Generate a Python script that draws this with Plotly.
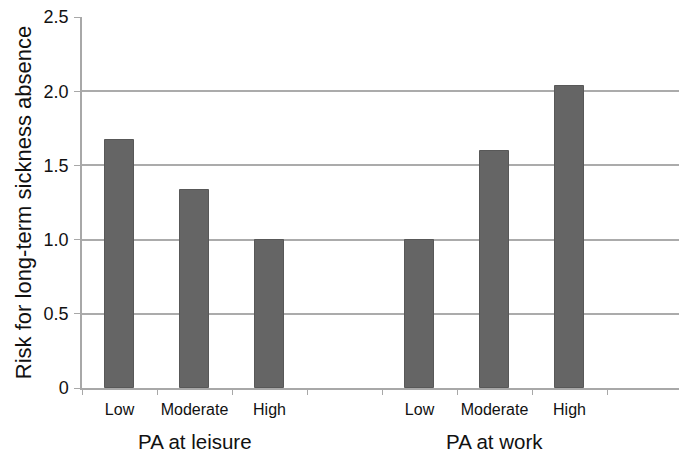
import plotly.graph_objects as go

positions = [0, 1, 2, 4, 5, 6]
levels = ["Low", "Moderate", "High", "Low", "Moderate", "High"]
risk = [1.67, 1.335, 1.0, 1.0, 1.595, 2.035]
groups = ["PA at leisure", "PA at work"]
group_pos = [1, 5]
y_ticks = [0, 0.5, 1.0, 1.5, 2.0, 2.5]
y_labels = ["0", "0.5", "1.0", "1.5", "2.0", "2.5"]

fig = go.Figure(go.Bar(
    x=positions, y=risk, width=0.39,
    marker=dict(color="#656565", line=dict(color="#585858", width=1)),
))

for g, p in zip(groups, group_pos):
    fig.add_annotation(x=p, y=0, xref="x", yref="paper", yanchor="middle",
                       yshift=-53, text=g, showarrow=False,
                       font=dict(size=20.5, color="#111111"))

fig.update_layout(
    width=679, height=453,
    margin=dict(l=82, r=0, t=17, b=65),
    paper_bgcolor="white", plot_bgcolor="white",
    font=dict(family="Liberation Sans, Arial, sans-serif", color="#111111"),
    showlegend=False,
    bargap=0,
)
fig.update_xaxes(
    range=[-0.5, 7.46],
    tickvals=positions, ticktext=levels,
    ticks="", tickfont=dict(size=16), ticklabelstandoff=6,
    showline=True, linecolor="#a8a8a8", linewidth=1.5,
    showgrid=False, zeroline=False, automargin=False,
    minor=dict(tick0=-0.5, dtick=1, ticks="outside", ticklen=5,
               tickcolor="#a8a8a8", showgrid=False),
)
fig.update_yaxes(
    range=[0, 2.5],
    tickvals=y_ticks, ticktext=y_labels,
    ticks="outside", ticklen=6, tickcolor="#a8a8a8",
    tickfont=dict(size=18), ticklabelstandoff=2,
    showline=True, linecolor="#a8a8a8", linewidth=1.5,
    showgrid=True, gridcolor="#ababab", gridwidth=1.5,
    zeroline=False, automargin=False,
    title=dict(text="Risk for long-term sickness absence", font=dict(size=22), standoff=6),
)

fig.write_html("out.html", config={"displayModeBar": False},
               post_script="document.body.style.margin='0';document.body.style.overflow='hidden';")
